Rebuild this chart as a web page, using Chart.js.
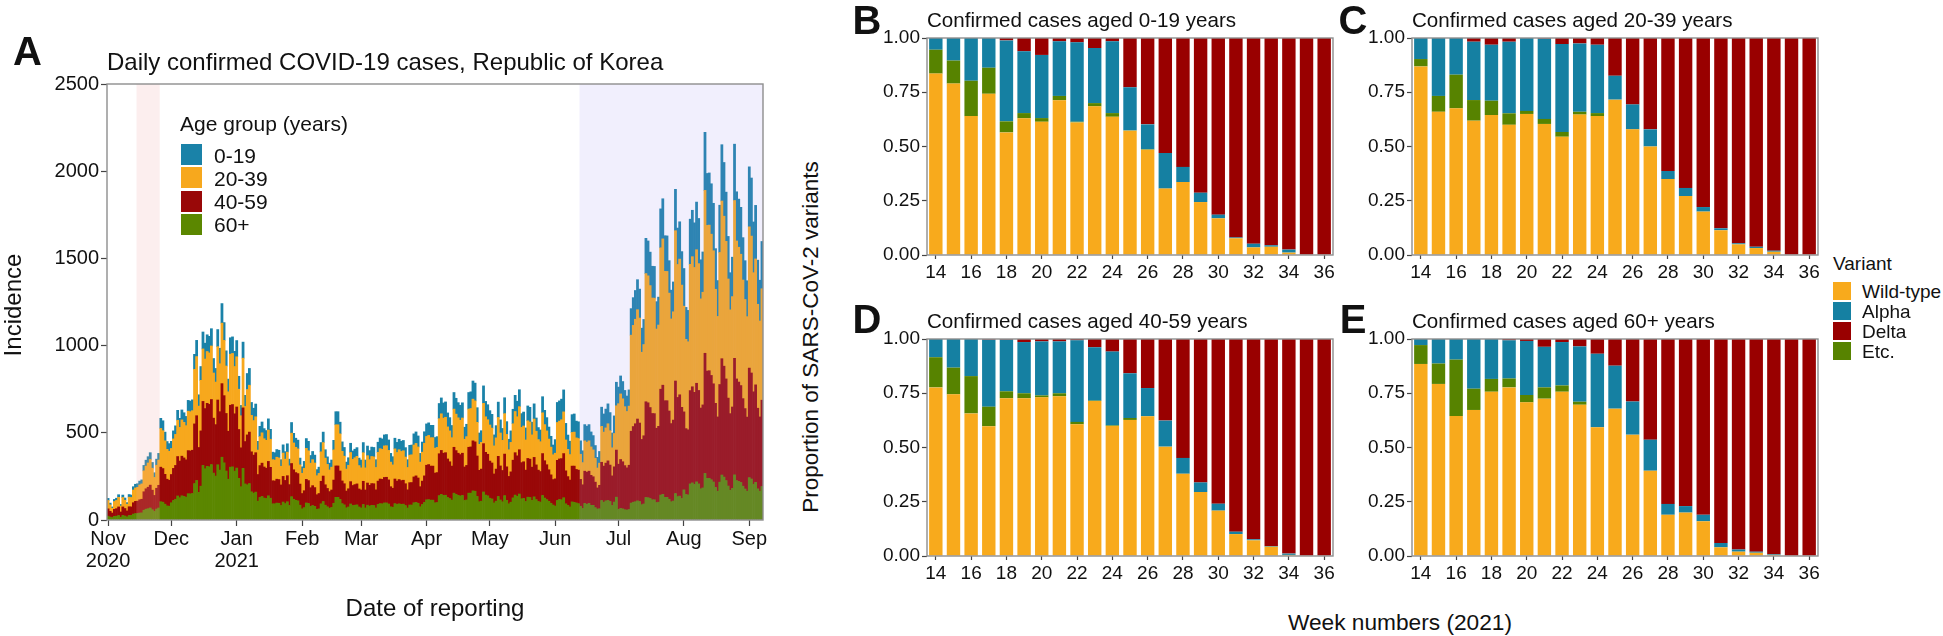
<!DOCTYPE html>
<html>
<head>
<meta charset="utf-8">
<title>COVID-19 cases and SARS-CoV-2 variants, Republic of Korea</title>
<script src="https://cdn.jsdelivr.net/npm/chart.js@4.4.1/dist/chart.umd.min.js"></script>
<style>
  body { margin: 0; width: 1943px; height: 636px; position: relative; overflow: hidden; background: #fff;
         font-family: "Liberation Sans", Arial, Helvetica, sans-serif; color: #111; }
  canvas { position: absolute; }
  .txt { position: absolute; white-space: nowrap; line-height: 1; }
  .mid { transform: translate(-50%, -50%); }
  .left { transform: translateY(-50%); }
  .vert { transform: translate(-50%, -50%) rotate(-90deg); }
  .tag { font-weight: bold; font-size: 40px; }
  .key { position: absolute; }
</style>
</head>
<body>
<canvas id="chartA" width="780" height="636" style="left:0;top:0"></canvas>
<canvas id="chartB" width="500" height="300" style="left:840px;top:0"></canvas>
<canvas id="chartC" width="500" height="300" style="left:1325px;top:0"></canvas>
<canvas id="chartD" width="500" height="300" style="left:840px;top:301px"></canvas>
<canvas id="chartE" width="500" height="300" style="left:1325px;top:301px"></canvas>

<!-- panel A text -->
<div class="txt tag left" style="left:13px;top:51px">A</div>
<div class="txt left" style="left:107px;top:62px;font-size:24px">Daily confirmed COVID-19 cases, Republic of Korea</div>
<div class="txt vert" style="left:13px;top:305px;font-size:24px">Incidence</div>
<div class="txt mid" style="left:435px;top:608px;font-size:24px">Date of reporting</div>
<div class="txt left" style="left:180px;top:123px;font-size:21px">Age group (years)</div>
<div id="legendA"></div>

<!-- panels B-E text -->
<div class="txt tag mid" style="left:867px;top:20px">B</div>
<div class="txt tag mid" style="left:1353px;top:20px">C</div>
<div class="txt tag mid" style="left:867px;top:319px">D</div>
<div class="txt tag mid" style="left:1353px;top:319px">E</div>
<div class="txt left" style="left:927px;top:20px;font-size:20.6px">Confirmed cases aged 0-19 years</div>
<div class="txt left" style="left:1412px;top:20px;font-size:20.6px">Confirmed cases aged 20-39 years</div>
<div class="txt left" style="left:927px;top:321px;font-size:20.6px">Confirmed cases aged 40-59 years</div>
<div class="txt left" style="left:1412px;top:321px;font-size:20.6px">Confirmed cases aged 60+ years</div>
<div class="txt vert" style="left:811px;top:337px;font-size:22.5px">Proportion of SARS-CoV-2 variants</div>
<div class="txt mid" style="left:1400px;top:622px;font-size:22.7px">Week numbers (2021)</div>
<div class="txt left" style="left:1833px;top:263px;font-size:19px">Variant</div>
<div id="legendV"></div>

<script>
// ---------- Panel A: daily confirmed cases by age group, 1 Nov 2020 - 7 Sep 2021 ----------
const firstDay = '2020-11-01';
const monthTickDays = [0, 30, 61, 92, 120, 151, 181, 212, 242, 273, 304];
const monthTickLabels = [['Nov', '2020'], ['Dec'], ['Jan', '2021'], ['Feb'], ['Mar'], ['Apr'],
                         ['May'], ['Jun'], ['Jul'], ['Aug'], ['Sep']];
const shadedDays = [[14, 24], [224, 310]];
const ageGroups = ['0-19', '20-39', '40-59', '60+'];

const cases0to19 = [
  12,10,8,12,13,15,9,14,13,10,15,14,19,21,21,22,23,31,34,36,39,33,27,35,38,58,57,50,45,44,
  41,46,49,57,52,57,55,53,62,61,62,86,93,65,79,97,91,96,95,99,83,78,98,89,112,102,87,73,94,95,87,
  93,74,59,92,64,92,96,74,71,73,50,59,62,58,56,64,57,43,42,44,44,38,47,43,48,38,61,55,52,50,39,
  37,40,56,54,44,47,45,35,36,53,60,48,43,39,41,55,75,75,67,54,50,40,43,53,48,49,50,43,
  45,58,45,55,52,54,54,45,58,61,60,63,64,60,50,47,61,58,60,59,59,54,45,56,56,64,66,63,50,58,66,
  72,72,71,71,61,62,87,91,87,88,80,76,70,95,91,87,86,87,69,71,95,96,104,102,84,65,67,100,88,86,
  82,79,63,70,88,75,68,91,73,60,66,83,93,89,97,79,80,69,85,84,73,87,76,69,67,92,82,76,69,62,56,
  78,115,116,118,126,95,82,77,102,104,96,96,77,68,93,92,93,86,82,73,61,67,110,104,108,114,104,85,101,135,
  95,103,99,93,89,93,152,159,165,172,166,138,144,202,200,192,182,182,157,160,223,230,204,204,186,165,171,237,209,214,192,
  216,183,180,259,266,256,273,259,224,231,333,298,299,289,272,233,206,271,323,308,282,244,213,226,323,282,276,269,243,223,206,
  344,333,291,307,253,234,271
];
const cases20to39 = [
  48,37,27,45,47,55,34,54,47,38,55,54,73,77,79,85,88,120,130,139,147,126,103,132,145,222,217,192,171,166,
  149,169,178,208,193,208,204,196,226,225,227,313,339,237,290,301,284,297,295,307,259,244,306,275,347,317,272,226,293,293,271,
  288,231,184,285,201,260,269,209,198,206,140,166,174,162,160,180,161,121,120,126,124,107,134,122,135,108,174,154,145,142,110,
  116,128,178,171,141,149,141,109,115,169,192,153,138,124,131,173,236,236,213,170,158,126,135,167,150,154,158,134,
  127,164,127,157,147,155,154,128,165,174,172,181,181,169,141,134,173,164,171,167,169,153,128,158,159,183,186,178,141,166,187,
  165,167,163,163,143,144,201,210,201,203,184,177,163,219,209,203,197,202,159,165,219,220,239,235,193,149,153,231,204,198,
  207,200,161,179,223,189,173,232,186,153,169,209,236,224,247,202,205,173,216,213,185,220,193,175,171,234,207,194,176,159,142,
  147,217,217,223,239,177,156,146,193,195,181,181,144,127,174,172,174,163,154,137,114,127,206,195,202,213,197,161,191,254,
  347,376,361,338,323,339,551,580,599,627,602,500,523,735,728,699,662,662,569,581,811,839,742,741,676,600,621,862,762,778,701,
  606,512,505,724,746,716,766,727,626,646,934,835,835,810,763,654,576,757,904,860,789,683,595,633,905,791,773,753,680,625,576,
  810,785,683,722,596,550,639
];
const cases40to59 = [
  42,33,26,40,43,49,30,49,43,34,50,49,65,70,71,76,78,106,117,123,131,112,92,119,130,198,193,171,153,149,
  162,184,194,226,210,227,221,214,247,246,248,342,371,258,317,367,345,361,358,373,315,295,371,335,422,385,330,275,355,357,329,
  350,280,223,347,243,286,295,229,218,226,153,183,191,178,174,197,177,132,131,137,136,118,147,133,149,119,190,169,159,156,121,
  88,97,135,131,107,114,108,84,88,129,146,117,105,95,100,133,180,180,163,130,121,96,104,128,115,118,120,103,
  103,133,103,127,119,125,125,104,134,141,140,146,147,138,115,109,141,134,139,136,137,125,104,128,129,148,152,145,115,134,152,
  198,201,195,195,170,172,240,252,242,244,221,211,195,263,251,242,237,242,192,198,263,265,287,283,232,180,184,277,245,238,
  213,206,166,184,230,195,179,238,192,157,174,216,243,232,254,207,210,180,222,220,191,226,199,180,175,240,214,200,181,163,146,
  156,230,232,236,253,189,165,154,205,208,192,192,154,136,185,184,185,172,164,146,121,134,219,207,216,227,209,170,202,270,
  259,281,270,253,242,254,412,434,447,469,450,374,391,549,544,522,495,494,426,435,607,626,554,554,506,448,464,645,569,581,523,
  447,378,373,535,551,528,565,536,463,476,689,616,617,598,563,482,426,560,667,636,583,504,440,467,668,583,570,556,502,461,425,
  628,608,530,559,462,426,495
];
const cases60plus = [
  22,17,14,21,22,26,16,26,23,18,26,26,34,37,37,40,41,56,62,65,69,59,49,63,69,105,102,91,81,79,
  99,112,119,138,128,139,135,131,151,150,152,209,227,158,194,313,294,308,305,318,269,252,317,286,360,328,281,234,303,305,280,
  298,239,191,296,207,202,209,162,154,160,108,129,135,126,123,139,125,93,93,97,96,83,103,94,105,84,134,119,113,110,85,
  64,71,98,95,78,83,78,61,64,93,106,85,76,68,72,96,130,130,118,94,87,70,75,92,83,85,87,75,
  69,89,69,85,80,84,83,69,89,94,93,98,98,92,76,73,94,89,93,90,91,83,69,86,86,99,101,96,76,89,101,
  116,117,114,114,99,100,140,147,141,142,129,123,114,154,147,141,138,141,112,115,154,154,167,165,135,105,108,161,143,139,
  125,121,98,108,135,115,105,140,113,93,102,127,143,136,149,122,124,106,131,129,112,133,117,106,103,141,126,117,107,96,86,
  80,112,118,116,128,93,84,75,104,101,98,94,79,66,95,90,95,84,84,71,63,65,112,102,110,112,106,83,103,131,
  61,66,64,59,57,60,97,102,105,110,106,88,92,129,128,123,116,116,100,102,143,147,130,130,119,105,109,152,134,137,123,
  173,146,144,207,213,204,219,207,179,184,267,238,239,231,218,187,165,217,258,246,226,195,170,181,259,226,221,215,194,178,165,
  243,235,205,216,179,165,192
];

// ---------- Panels B-E: weekly variant shares by age group ----------
const weeks = [14,15,16,17,18,19,20,21,22,23,24,25,26,27,28,29,30,31,32,33,34,35,36];
const variants = ['Wild-type', 'Alpha', 'Delta', 'Etc.'];

const shares0to19 = {
  wild:  [0.836,0.790,0.640,0.743,0.565,0.630,0.614,0.713,0.611,0.685,0.637,0.573,0.485,0.306,0.336,0.244,0.169,0.077,0.035,0.038,0.011,0,0],
  etc:   [0.110,0.106,0.163,0.120,0.051,0.024,0.017,0.020,0.003,0.015,0.017,0.001,0.002,0,0,0,0,0,0,0,0,0,0],
  alpha: [0.054,0.104,0.197,0.137,0.373,0.285,0.291,0.252,0.366,0.254,0.331,0.199,0.115,0.164,0.070,0.043,0.017,0.004,0.017,0.007,0.014,0,0],
  delta: [0,0,0,0,0.011,0.061,0.078,0.015,0.020,0.046,0.015,0.227,0.398,0.530,0.594,0.713,0.814,0.919,0.948,0.955,0.975,1,1]
};
const shares20to39 = {
  wild:  [0.869,0.660,0.676,0.619,0.645,0.600,0.650,0.604,0.545,0.647,0.640,0.716,0.579,0.500,0.350,0.272,0.200,0.114,0.049,0.032,0.015,0,0],
  etc:   [0.034,0.073,0.155,0.095,0.066,0.053,0.014,0.023,0.022,0.013,0.014,0,0,0,0,0,0,0,0,0,0,0,0],
  alpha: [0.097,0.267,0.169,0.269,0.258,0.330,0.336,0.370,0.405,0.315,0.315,0.110,0.115,0.079,0.037,0.037,0.021,0.009,0.005,0.006,0.005,0,0],
  delta: [0,0,0,0.017,0.031,0.017,0,0.003,0.028,0.025,0.031,0.174,0.306,0.421,0.613,0.691,0.779,0.877,0.946,0.962,0.980,1,1]
};
const shares40to59 = {
  wild:  [0.777,0.745,0.657,0.598,0.727,0.727,0.731,0.736,0.607,0.714,0.599,0.627,0.644,0.504,0.379,0.295,0.209,0.101,0.072,0.043,0.005,0,0],
  etc:   [0.139,0.123,0.172,0.090,0.032,0.023,0.009,0.014,0.011,0.002,0.003,0.009,0,0,0,0,0,0,0,0,0,0,0],
  alpha: [0.084,0.132,0.171,0.309,0.238,0.236,0.249,0.239,0.376,0.246,0.340,0.206,0.130,0.120,0.073,0.044,0.032,0.011,0.005,0.003,0.006,0,0],
  delta: [0,0,0,0.003,0.003,0.014,0.011,0.011,0.006,0.038,0.058,0.158,0.226,0.376,0.548,0.661,0.759,0.888,0.923,0.954,0.989,1,1]
};
const shares60plus = {
  wild:  [0.885,0.793,0.645,0.673,0.757,0.777,0.708,0.725,0.757,0.697,0.593,0.679,0.559,0.393,0.190,0.200,0.160,0.040,0.020,0.015,0.005,0,0],
  etc:   [0.087,0.094,0.260,0.098,0.059,0.041,0.034,0.052,0.029,0.014,0,0,0,0,0,0,0,0,0,0,0,0,0],
  alpha: [0.028,0.113,0.095,0.229,0.184,0.176,0.249,0.187,0.200,0.255,0.339,0.198,0.153,0.143,0.050,0.030,0.030,0.020,0.010,0.005,0.003,0,0],
  delta: [0,0,0,0,0,0.006,0.009,0.036,0.014,0.034,0.068,0.123,0.288,0.464,0.760,0.770,0.810,0.940,0.970,0.980,0.992,1,1]
};

// ---------- styling ----------
const ageColors = { '0-19': '#1a82a8', '20-39': '#f7a81d', '40-59': '#990808', '60+': '#5b8700' };
const variantColors = { 'Wild-type': '#f8aa1c', 'Alpha': '#1580a2', 'Delta': '#990000', 'Etc.': '#578300' };
const tickGrey = '#444';
const frameGrey = '#8e8e8e';

Chart.defaults.font.family = '"Liberation Sans", Arial, Helvetica, sans-serif';
Chart.defaults.color = '#111';
Chart.defaults.animation = false;

// draws the shaded periods (on top, translucent) and the panel frame
const framePlugin = {
  id: 'frame',
  afterDatasetsDraw(chart, args, opts) {
    const { ctx, chartArea: a, scales: { x } } = chart;
    ctx.save();
    (opts.shades || []).forEach((s) => {
      const x0 = Math.max(a.left, x.getPixelForValue(s.from - 0.5));
      const x1 = Math.min(a.right, x.getPixelForValue(s.to + 0.5));
      ctx.fillStyle = s.color;
      ctx.fillRect(x0, a.top, x1 - x0, a.bottom - a.top);
    });
    ctx.strokeStyle = frameGrey;
    ctx.lineWidth = 1.4;
    ctx.strokeRect(a.left, a.top, a.right - a.left, a.bottom - a.top);
    ctx.restore();
  }
};

function tickGrid(len) {
  return { offset: false, drawOnChartArea: false, drawTicks: true, tickLength: len, tickColor: tickGrey, tickWidth: 1.2 };
}

// Panel A
const ageSeries = { '0-19': cases0to19, '20-39': cases20to39, '40-59': cases40to59, '60+': cases60plus };
const dayIndex = cases0to19.map((_, i) => i);

new Chart(document.getElementById('chartA'), {
  type: 'bar',
  data: {
    labels: dayIndex,
    // bottom-to-top stacking order: 60+, 40-59, 20-39, 0-19
    datasets: ['60+', '40-59', '20-39', '0-19'].map((g) => ({
      label: g,
      data: ageSeries[g],
      backgroundColor: ageColors[g],
      borderWidth: 0,
      barPercentage: 1,
      categoryPercentage: 1
    }))
  },
  options: {
    responsive: false,
    maintainAspectRatio: false,
    layout: { padding: { top: 84, right: 17, left: 0, bottom: 0 } },
    plugins: {
      legend: { display: false },
      tooltip: { enabled: false },
      frame: {
        shades: [
          { from: shadedDays[0][0], to: shadedDays[0][1], color: 'rgba(240,170,170,0.2)' },
          { from: shadedDays[1][0], to: shadedDays[1][1], color: 'rgba(160,150,240,0.15)' }
        ]
      }
    },
    scales: {
      x: {
        type: 'linear',
        offset: false,
        stacked: true,
        min: -0.5,
        max: dayIndex.length - 0.5,
        afterBuildTicks: (axis) => { axis.ticks = monthTickDays.map((v) => ({ value: v })); },
        ticks: {
          autoSkip: false,
          maxRotation: 0,
          padding: 2,
          font: { size: 20, lineHeight: 1.1 },
          callback: (v, i) => monthTickLabels[i]
        },
        grid: tickGrid(6),
        border: { display: false },
        afterFit: (axis) => { axis.height = 116; }
      },
      y: {
        stacked: true,
        min: 0,
        max: 2500,
        ticks: { stepSize: 500, padding: 2, font: { size: 20 }, callback: (v) => String(v) },
        grid: tickGrid(6),
        border: { display: false },
        afterFit: (axis) => { axis.width = 107; }
      }
    }
  },
  plugins: [framePlugin]
});

// Panels B-E
function variantChart(id, shares) {
  const order = [['Wild-type', shares.wild], ['Etc.', shares.etc], ['Alpha', shares.alpha], ['Delta', shares.delta]];
  new Chart(document.getElementById(id), {
    type: 'bar',
    data: {
      labels: weeks,
      datasets: order.map(([name, vals]) => ({
        label: name,
        data: vals,
        backgroundColor: variantColors[name],
        borderWidth: 0,
        barPercentage: 0.76,
        categoryPercentage: 1
      }))
    },
    options: {
      responsive: false,
      maintainAspectRatio: false,
      layout: { padding: { top: 38, right: 7, left: 0, bottom: 0 } },
      plugins: { legend: { display: false }, tooltip: { enabled: false }, frame: {} },
      scales: {
        x: {
          type: 'linear',
          offset: false,
          stacked: true,
          min: 13.5,
          max: 36.5,
          afterBuildTicks: (axis) => { axis.ticks = weeks.filter((w) => w % 2 === 0).map((w) => ({ value: w })); },
          ticks: { autoSkip: false, maxRotation: 0, padding: 2, font: { size: 19 } },
          grid: tickGrid(4),
          border: { display: false },
          afterFit: (axis) => { axis.height = 45; }
        },
        y: {
          stacked: true,
          min: 0,
          max: 1,
          afterBuildTicks: (axis) => { axis.ticks = [0, 0.25, 0.5, 0.75, 1].map((v) => ({ value: v })); },
          ticks: { padding: 2, font: { size: 19 }, callback: (v) => v.toFixed(2) },
          grid: tickGrid(5),
          border: { display: false },
          afterFit: (axis) => { axis.width = 87; }
        }
      }
    },
    plugins: [framePlugin]
  });
}

variantChart('chartB', shares0to19);
variantChart('chartC', shares20to39);
variantChart('chartD', shares40to59);
variantChart('chartE', shares60plus);

// legends (HTML, real text)
function buildLegend(el, items, colors, x, y0, size, step, textX, fontSize) {
  items.forEach((name, i) => {
    const top = y0 + i * step;
    const key = document.createElement('div');
    key.className = 'key';
    key.style.cssText = `left:${x}px;top:${top}px;width:${size}px;height:${size}px;background:${colors[name]}`;
    el.appendChild(key);
    const t = document.createElement('div');
    t.className = 'txt left';
    t.style.cssText = `left:${textX}px;top:${top + size / 2}px;font-size:${fontSize}px`;
    t.textContent = name;
    el.appendChild(t);
  });
}
buildLegend(document.getElementById('legendA'), ageGroups, ageColors, 181, 144, 21, 23.3, 214, 21);
buildLegend(document.getElementById('legendV'), variants, variantColors, 1833, 282, 18, 20, 1862, 19);
</script>
</body>
</html>
